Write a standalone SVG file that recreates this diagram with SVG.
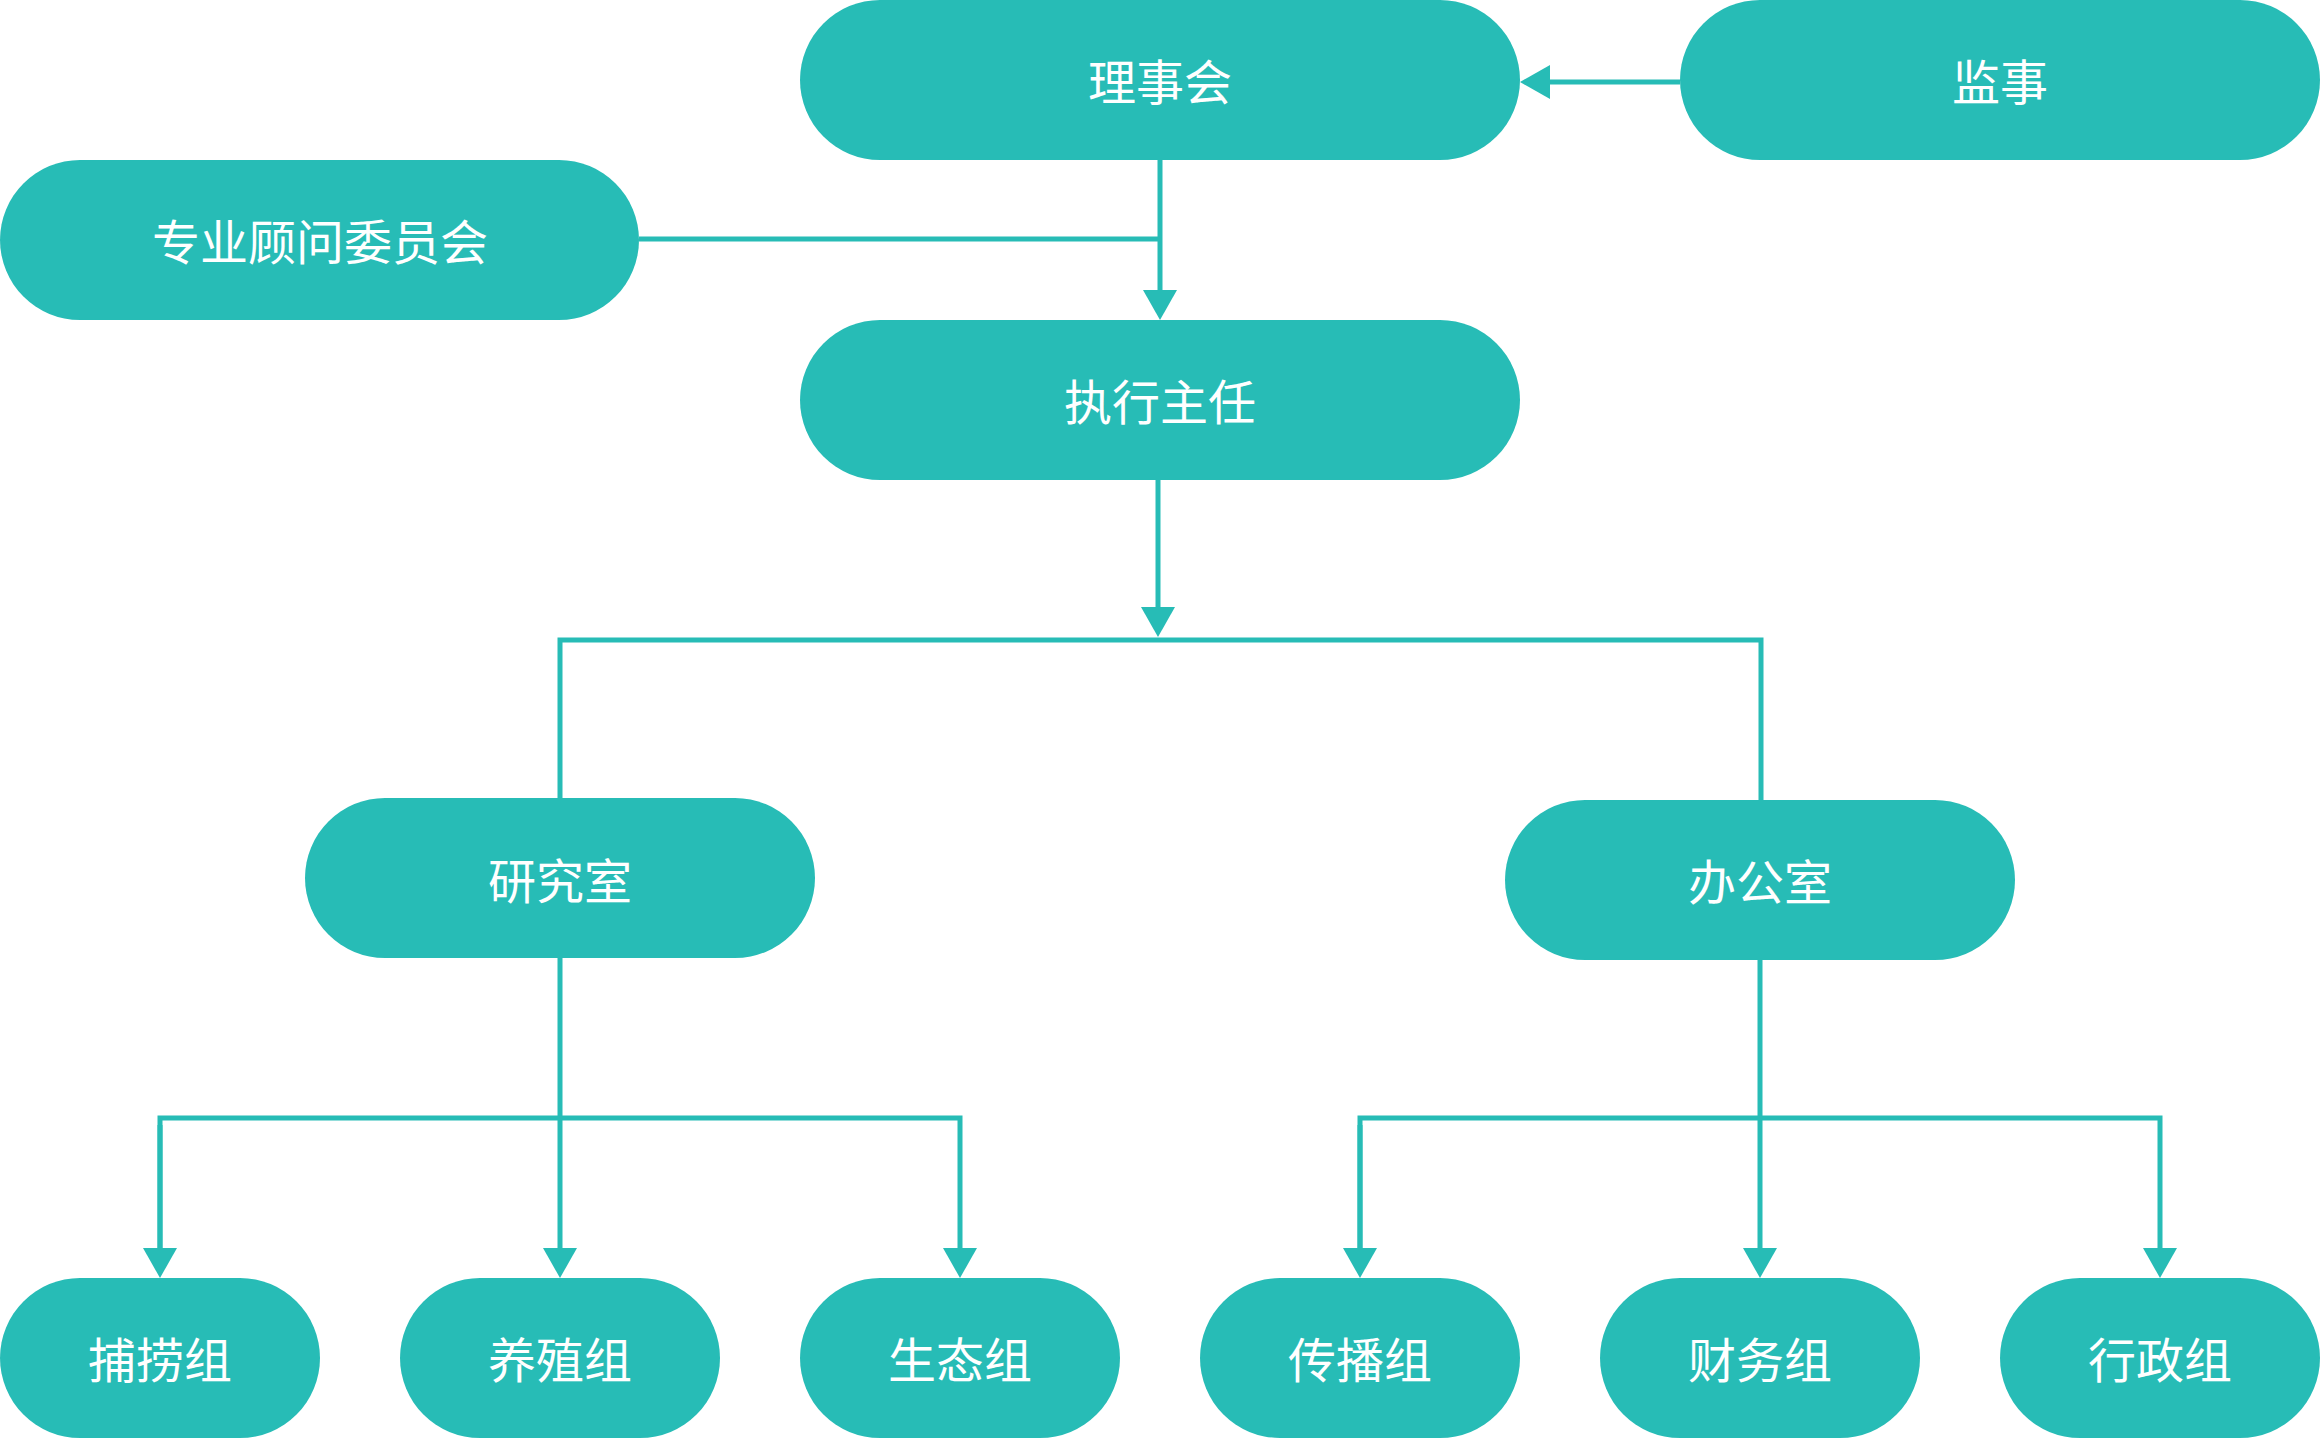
<svg xmlns="http://www.w3.org/2000/svg" width="2320" height="1438" viewBox="0 0 2320 1438">
<style>
.node rect{fill:#27bcb6;}
.node text{fill:#ffffff;font-family:"Noto Sans CJK SC","Noto Sans",sans-serif;font-size:48px;text-anchor:middle;}
.conn path{fill:none;stroke:#27bcb6;stroke-width:5;}
</style>
<defs>
<marker id="arr" markerUnits="userSpaceOnUse" markerWidth="30" markerHeight="34" viewBox="0 0 30 34" refX="0" refY="17" orient="auto">
<path d="M0,0 L30,17 L0,34 z" fill="#27bcb6"/>
</marker>
</defs>
<rect width="2320" height="1438" fill="#ffffff"/>
<g id="connectors" class="conn">
<path d="M1160,160 V290" marker-end="url(#arr)"/>
<path d="M639,239 H1160"/>
<path d="M1680,82 H1550" marker-end="url(#arr)"/>
<path d="M1158,480 V607" marker-end="url(#arr)"/>
<path d="M560,798 V640 H1761 V800"/>
<path d="M560,958 V1248" marker-end="url(#arr)"/>
<path d="M160,1248 V1118 H960 V1248" marker-end="url(#arr)"/>
<path d="M160,1125 V1248" marker-end="url(#arr)"/>
<path d="M1760,960 V1248" marker-end="url(#arr)"/>
<path d="M1360,1248 V1118 H2160 V1248" marker-end="url(#arr)"/>
<path d="M1360,1125 V1248" marker-end="url(#arr)"/>
</g>
<g id="n-lishihui" class="node"><rect x="800" y="0" width="720" height="160" rx="80" ry="80"/><text x="1160" y="100">理事会</text></g>
<g id="n-jianshi" class="node"><rect x="1680" y="0" width="640" height="160" rx="80" ry="80"/><text x="2000" y="100">监事</text></g>
<g id="n-guwen" class="node"><rect x="0" y="160" width="639" height="160" rx="80" ry="80"/><text x="320" y="260">专业顾问委员会</text></g>
<g id="n-zhixing" class="node"><rect x="800" y="320" width="720" height="160" rx="80" ry="80"/><text x="1160" y="420">执行主任</text></g>
<g id="n-yanjiu" class="node"><rect x="305" y="798" width="510" height="160" rx="80" ry="80"/><text x="560" y="899">研究室</text></g>
<g id="n-bangong" class="node"><rect x="1505" y="800" width="510" height="160" rx="80" ry="80"/><text x="1760" y="900">办公室</text></g>
<g id="n-bulao" class="node"><rect x="0" y="1278" width="320" height="160" rx="80" ry="80"/><text x="160" y="1378">捕捞组</text></g>
<g id="n-yangzhi" class="node"><rect x="400" y="1278" width="320" height="160" rx="80" ry="80"/><text x="560" y="1378">养殖组</text></g>
<g id="n-shengtai" class="node"><rect x="800" y="1278" width="320" height="160" rx="80" ry="80"/><text x="960" y="1378">生态组</text></g>
<g id="n-chuanbo" class="node"><rect x="1200" y="1278" width="320" height="160" rx="80" ry="80"/><text x="1360" y="1378">传播组</text></g>
<g id="n-caiwu" class="node"><rect x="1600" y="1278" width="320" height="160" rx="80" ry="80"/><text x="1760" y="1378">财务组</text></g>
<g id="n-xingzheng" class="node"><rect x="2000" y="1278" width="320" height="160" rx="80" ry="80"/><text x="2160" y="1378">行政组</text></g>
</svg>
